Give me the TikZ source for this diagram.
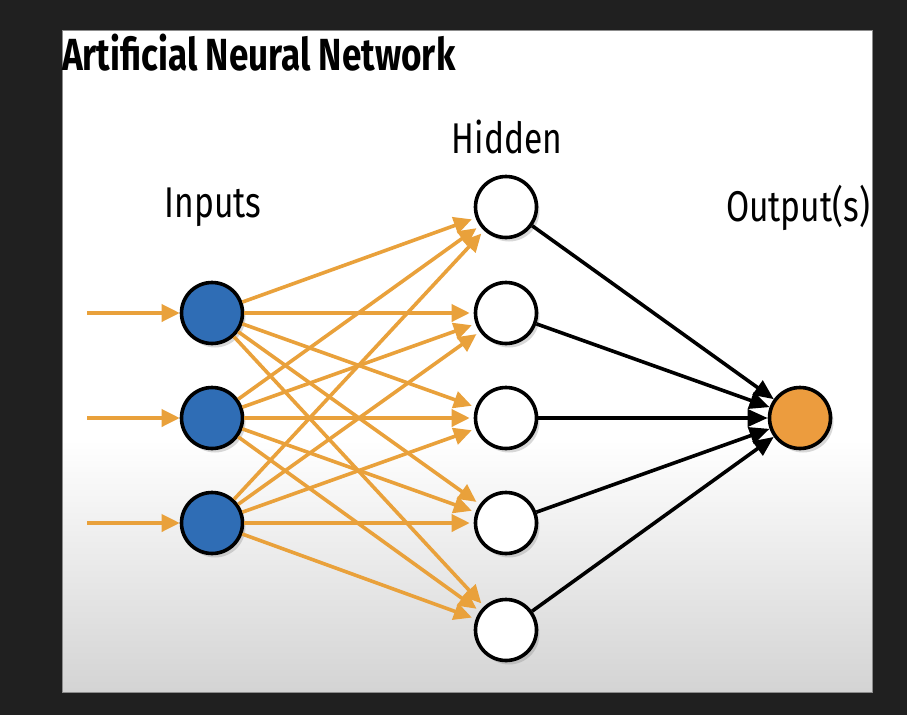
\documentclass[tikz,border=0pt]{standalone}
\usepackage{fontspec}
\setmainfont{Fira Sans}
\newfontfamily\annfont[FakeStretch=0.78]{Fira Sans}
\usepackage{tikz}
\usetikzlibrary{
    arrows.meta,
    calc,
    positioning,
    shadows
}
\definecolor{annback}{HTML}{202020}
\definecolor{annorange}{HTML}{E9A13B}
\definecolor{annblue}{HTML}{2F6DB5}
\definecolor{annout}{HTML}{EC9C3E}
\tikzstyle{feed}=[line width=3.6pt,-{Triangle[length=18pt,width=17pt]},draw=annorange]
\tikzstyle{link}=[line width=3.6pt,-{Triangle[length=20pt,width=17pt]},draw=black]

\begin{document}
\begin{tikzpicture}[
    x=1pt, y=-1pt,
    every node/.style={font=\annfont},
    neuron/.style={
        circle,
        draw=black,
        line width=3.6pt,
        minimum size=61pt,
        inner sep=0pt,
        drop shadow={opacity=0.3,shadow xshift=3pt,shadow yshift=-4pt}
    },
    layername/.style={
        font=\annfont\fontsize{43}{50}\selectfont,
        inner sep=0pt
    }
]
\useasboundingbox (0,0) rectangle (907,715);
% screen and slide
\fill[annback] (0,0) rectangle (907,715);
\fill[white] (62,30) rectangle (872,692);
\shade[top color=white,bottom color=black!17] (62,440) rectangle (872,692);
\draw[black!45,line width=1pt] (62,30) rectangle (872,692);

\node[anchor=north west,inner sep=0pt,
      font=\annfont\bfseries\fontsize{45}{52}\selectfont] (title) at (62,34)
      {Artificial Neural Network};

% neurons
\foreach \i/\y in {1/313,2/418,3/523}
    \node[neuron,fill=annblue] (in\i) at (212,\y) {};
\foreach \j/\y in {1/207,2/313,3/418,4/523,5/630}
    \node[neuron,fill=white] (hid\j) at (506,\y) {};
\node[neuron,fill=annout] (out) at (800,418) {};

\node[layername] (inlbl) at (213,207) {Inputs};
\node[layername] (hidlbl) at (507,137) {Hidden};
\node[layername] (outlbl) at (798,208) {Output(s)};

% connections
\foreach \i/\y in {1/313,2/418,3/523}{
    \coordinate (src\i) at (87,\y);
    \draw[feed] (src\i) -- (in\i);
}
\foreach \i in {1,2,3}
    \foreach \j in {1,...,5}
        \draw[feed,shorten >=4pt] (in\i) -- (hid\j);
\foreach \j in {1,...,5}
    \draw[link] (hid\j) -- (out);
\end{tikzpicture}
\end{document}
